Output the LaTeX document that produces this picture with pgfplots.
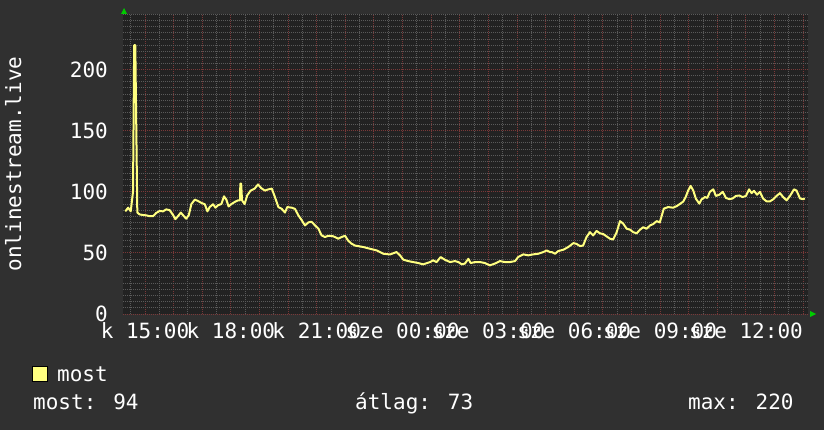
\documentclass[border=0pt]{standalone}
\usepackage{fontspec}
\setmainfont{DejaVu Sans Mono}
\usepackage{pgfplots}
\pgfplotsset{compat=1.18}

\definecolor{canvasbg}{HTML}{303030}
\definecolor{plotbg}{HTML}{222222}
\definecolor{gridgray}{HTML}{5A5A5A}
\definecolor{gridred}{HTML}{7A3838}
\definecolor{lineyel}{HTML}{FFFF80}
\definecolor{arrowgreen}{HTML}{00CC00}

% hours since 00:00 of the first day, value
\pgfplotstableread{
h v
14.31 84
14.41 87
14.50 84
14.58 100
14.62 220
14.66 220
14.73 83
14.81 81.5
14.93 81
15.05 80.7
15.16 80
15.28 80
15.39 82.7
15.51 84.3
15.63 84
15.74 85.6
15.86 85
15.98 81
16.06 77.6
16.15 80
16.25 83
16.36 80
16.44 78
16.53 81
16.62 90
16.74 93.6
16.85 92.5
16.97 90.9
17.09 89.8
17.18 84
17.26 87.6
17.38 89.8
17.46 87
17.55 89
17.67 90
17.76 96.3
17.84 93.7
17.92 88
18.02 90
18.13 91.6
18.25 93
18.32 93
18.33 106.7
18.36 106.7
18.39 93
18.48 90
18.57 97
18.69 101
18.83 102.6
18.95 106
19.06 103
19.19 101
19.31 102
19.43 102.6
19.54 95.7
19.66 87.5
19.78 86
19.89 83
19.97 87.5
20.13 87
20.24 86
20.36 80.7
20.48 76.6
20.59 72.5
20.71 75
20.82 75.5
20.94 72.5
21.06 69.8
21.17 64.3
21.29 63
21.40 64
21.52 64
21.64 63
21.75 61.6
21.87 63
21.99 64
22.10 60
22.22 57.5
22.34 56
22.63 54.8
22.86 53.4
23.10 52
23.33 49.3
23.56 48.7
23.79 50.7
23.91 48
24.03 44.4
24.20 43.3
24.37 42.5
24.55 41.7
24.72 40.6
24.96 42.5
25.07 43.9
25.19 42.5
25.33 46.6
25.48 44.4
25.66 42.5
25.83 43.3
25.95 42.5
26.07 40.6
26.18 41.3
26.30 45.2
26.38 41.7
26.53 42.5
26.71 42.5
26.88 41.7
27.05 39.8
27.23 41.3
27.40 43.3
27.58 42.5
27.75 42.5
27.93 43.3
28.04 46.6
28.22 48.8
28.39 48
28.57 48.8
28.74 49.3
28.92 50.7
29.04 52
29.15 50.7
29.21 50.7
29.33 49.3
29.44 51.5
29.62 52.6
29.79 54.8
29.97 58
30.08 57.4
30.20 55.6
30.31 56
30.43 63
30.55 67
30.66 64.3
30.78 68
30.90 66
31.01 65.5
31.13 63.5
31.25 61.6
31.36 61
31.48 66.8
31.60 76
31.71 74
31.83 69.8
31.95 69
32.06 67
32.18 66
32.30 69
32.41 71
32.53 69.8
32.65 72.5
32.76 73.6
32.88 76
32.99 75
33.13 86.2
33.28 87.5
33.46 87
33.58 88.3
33.69 90
33.81 92
33.90 96
33.98 101
34.07 104.8
34.16 101
34.25 94.4
34.37 90.3
34.45 93.8
34.57 95.7
34.65 95
34.74 100
34.86 102
34.95 96.6
35.07 97.6
35.19 100
35.30 95
35.42 94
35.53 94.5
35.65 96.6
35.77 97
35.88 95.7
36.00 96.6
36.11 102
36.20 98.9
36.28 100.8
36.39 97.6
36.49 100
36.60 94.5
36.72 92.2
36.84 92.2
36.95 93.8
37.07 96.6
37.19 98.9
37.30 95.7
37.42 93
37.54 96.6
37.68 102
37.77 101
37.89 94.5
38.00 94
38.06 94.5
}\most

\begin{document}
\begin{tikzpicture}[x=1bp, y=1bp, font=\fontsize{21bp}{24bp}\selectfont]
\fill[canvasbg] (0,0) rectangle (824,430);

\begin{axis}[
    at={(123bp,116bp)}, anchor=south west,
    scale only axis,
    width=685bp, height=300bp,
    xmin=14.23, xmax=38.17,
    ymin=0, ymax=245.5,
    axis background/.style={fill=plotbg},
    axis line style={draw=none},
    xtick={15,...,38},
    xticklabels={k 15:00,,,k 18:00,,,k 21:00,,,sze 00:00,,,sze 03:00,,,sze 06:00,,,sze 09:00,,,sze 12:00,,},
    minor xtick={14.5,15.5,...,37.5},
    ytick={0,50,...,200},
    yticklabels={0,50,100,150,200},
    minor ytick={5,10,...,245},
    grid=both,
    major grid style={gridred, dash pattern=on 1bp off 1bp, line width=1bp},
    minor grid style={gridgray, dash pattern=on 1bp off 1bp, line width=1bp},
    major tick length=0pt, minor tick length=0pt,
    tick label style={text=white, inner sep=0pt},
    xticklabel style={anchor=base, yshift=-24bp},
    yticklabel style={anchor=east, xshift=-15bp},
]
\addplot[lineyel, line width=2bp, line join=round] table[x=h, y=v] {\most};
\end{axis}

% y axis title
\node[rotate=90, inner sep=0pt, anchor=base, text=white] at (21,266) {onlinestream.live};

% arrows at the axis ends
\fill[arrowgreen] (121,416) -- (127,416) -- (124,422) -- cycle;
\fill[arrowgreen] (810,113) -- (810,119) -- (816,116) -- cycle;

% legend
\filldraw[fill=lineyel, draw=black] (32,49) rectangle (47,64);
\node[anchor=base west, inner sep=0pt, text=white] at (57,49) {most};
\node[anchor=base west, inner sep=0pt, text=white] at (33,21) {most: 94};
\node[anchor=base west, inner sep=0pt, text=white] at (355,21) {átlag: 73};
\node[anchor=base west, inner sep=0pt, text=white] at (688,21) {max: 220};
\end{tikzpicture}
\end{document}
